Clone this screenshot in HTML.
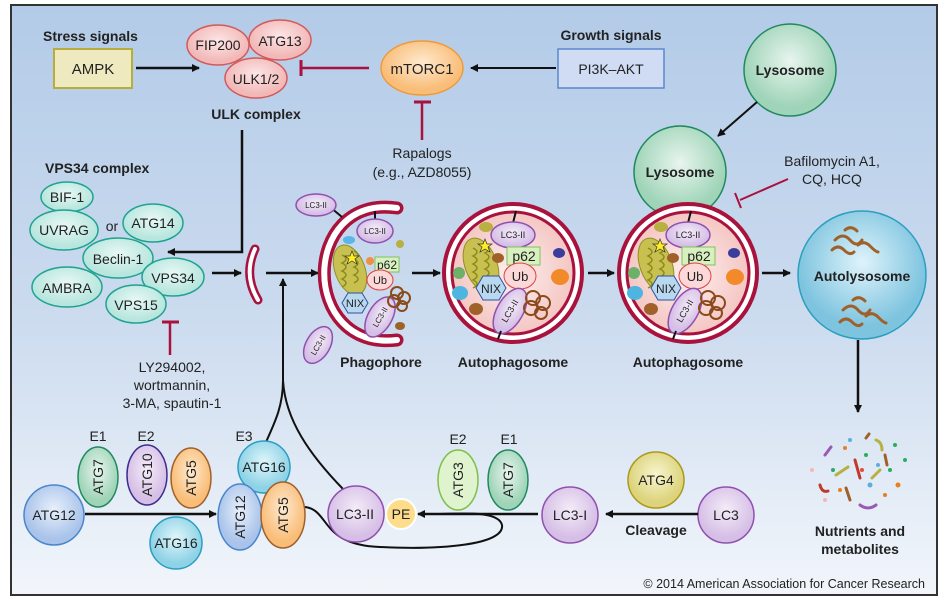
<!DOCTYPE html>
<html><head><meta charset="utf-8">
<style>
html,body{margin:0;padding:0;background:#fff;}
svg{display:block;}
text{font-family:"Liberation Sans",Arial,sans-serif;fill:#222;}
.b{font-weight:bold;}
</style></head>
<body>
<svg width="942" height="599" viewBox="0 0 942 599" xmlns="http://www.w3.org/2000/svg">
<defs>
<linearGradient id="bg" x1="0" y1="0" x2="0" y2="1">
<stop offset="0" stop-color="#b3cbe8"/><stop offset="0.55" stop-color="#cddcef"/><stop offset="1" stop-color="#f2f6fb"/>
</linearGradient>
<radialGradient id="pink"><stop offset="0" stop-color="#fdf0ee"/><stop offset="1" stop-color="#f4c6c3"/></radialGradient>
<radialGradient id="teal" cx="0.5" cy="0.4"><stop offset="0" stop-color="#e8f8f5"/><stop offset="1" stop-color="#b8e6de"/></radialGradient>
<radialGradient id="red" cx="0.5" cy="0.4"><stop offset="0" stop-color="#fde6e6"/><stop offset="1" stop-color="#f2b8b8"/></radialGradient>
<radialGradient id="orng" cx="0.5" cy="0.4"><stop offset="0" stop-color="#feead0"/><stop offset="1" stop-color="#f9bd78"/></radialGradient>
<radialGradient id="grn" cx="0.5" cy="0.4"><stop offset="0" stop-color="#e8f5ee"/><stop offset="1" stop-color="#9fd4b8"/></radialGradient>
<radialGradient id="blu" cx="0.5" cy="0.4"><stop offset="0" stop-color="#dff3fb"/><stop offset="1" stop-color="#7ec4df"/></radialGradient>
<radialGradient id="purp" cx="0.5" cy="0.4"><stop offset="0" stop-color="#f4ecf8"/><stop offset="1" stop-color="#d6bfe6"/></radialGradient>
<radialGradient id="lb" cx="0.5" cy="0.4"><stop offset="0" stop-color="#e8f0fb"/><stop offset="1" stop-color="#a9c3ea"/></radialGradient>
<radialGradient id="cy" cx="0.5" cy="0.4"><stop offset="0" stop-color="#e0f6fb"/><stop offset="1" stop-color="#8dd2e6"/></radialGradient>
<radialGradient id="yel" cx="0.5" cy="0.4"><stop offset="0" stop-color="#f8f5d0"/><stop offset="1" stop-color="#dcd37a"/></radialGradient>
<marker id="ar" markerWidth="8" markerHeight="8" refX="7" refY="4" orient="auto" markerUnits="userSpaceOnUse"><path d="M0,0 L8,4 L0,8 z" fill="#111"/></marker>
</defs>
<rect x="0" y="0" width="942" height="599" fill="#fff"/>
<rect x="11" y="5" width="926" height="590" fill="url(#bg)" stroke="#333" stroke-width="2"/>

<!-- top row -->
<text x="43" y="41" class="b" font-size="14">Stress signals</text>
<rect x="54" y="49" width="78" height="39" fill="#efe9bf" stroke="#b5ad3c" stroke-width="2"/>
<text x="93" y="74" font-size="15" text-anchor="middle">AMPK</text>
<line x1="136" y1="68" x2="199" y2="68" stroke="#111" stroke-width="2.5" marker-end="url(#ar)"/>

<ellipse cx="218" cy="45" rx="31" ry="20" fill="url(#red)" stroke="#d25a5a" stroke-width="1.5"/>
<text x="218" y="50" font-size="14" text-anchor="middle">FIP200</text>
<ellipse cx="280" cy="40" rx="31" ry="20" fill="url(#red)" stroke="#d25a5a" stroke-width="1.5"/>
<text x="280" y="46" font-size="14" text-anchor="middle">ATG13</text>
<ellipse cx="256" cy="78" rx="31" ry="20" fill="url(#red)" stroke="#d25a5a" stroke-width="1.5"/>
<text x="256" y="84" font-size="14" text-anchor="middle">ULK1/2</text>
<text x="256" y="119" class="b" font-size="14" text-anchor="middle">ULK complex</text>

<line x1="369" y1="68" x2="301" y2="68" stroke="#a8123c" stroke-width="2.5"/>
<line x1="301" y1="60" x2="301" y2="76" stroke="#a8123c" stroke-width="3"/>
<ellipse cx="422" cy="68" rx="41" ry="27" fill="url(#orng)" stroke="#ee9a3c" stroke-width="1.5"/>
<text x="422" y="74" font-size="15" text-anchor="middle">mTORC1</text>
<line x1="422" y1="140" x2="422" y2="102" stroke="#a8123c" stroke-width="2.5"/>
<line x1="414" y1="102" x2="431" y2="102" stroke="#a8123c" stroke-width="3"/>
<text x="422" y="158" font-size="14" text-anchor="middle">Rapalogs</text>
<text x="422" y="177" font-size="14" text-anchor="middle">(e.g., AZD8055)</text>

<text x="611" y="40" class="b" font-size="14" text-anchor="middle">Growth signals</text>
<rect x="558" y="49" width="106" height="39" fill="#cfdcf3" stroke="#5b87cc" stroke-width="1.5"/>
<text x="611" y="74" font-size="14" text-anchor="middle">PI3K–AKT</text>
<line x1="556" y1="68" x2="471" y2="68" stroke="#111" stroke-width="2" marker-end="url(#ar)"/>

<!-- ULK down line -->
<polyline points="242,130 242,252 168,252" fill="none" stroke="#111" stroke-width="2.5" marker-end="url(#ar)"/>

<!-- VPS34 complex -->
<text x="45" y="173" class="b" font-size="14">VPS34 complex</text>
<g stroke="#1fa391" stroke-width="1.5" fill="url(#teal)">
<ellipse cx="67" cy="197" rx="26" ry="15"/>
<ellipse cx="64" cy="230" rx="34" ry="20"/>
<ellipse cx="153" cy="223" rx="30" ry="19"/>
<ellipse cx="118" cy="258" rx="35" ry="20"/>
<ellipse cx="67" cy="287" rx="35" ry="20"/>
<ellipse cx="173" cy="277" rx="31" ry="19"/>
<ellipse cx="136" cy="304" rx="30" ry="19"/>
</g>
<text x="67" y="202" font-size="14" text-anchor="middle">BIF-1</text>
<text x="64" y="235" font-size="14" text-anchor="middle">UVRAG</text>
<text x="112" y="231" font-size="14" text-anchor="middle">or</text>
<text x="153" y="228" font-size="14" text-anchor="middle">ATG14</text>
<text x="118" y="264" font-size="14" text-anchor="middle">Beclin-1</text>
<text x="67" y="293" font-size="14" text-anchor="middle">AMBRA</text>
<text x="173" y="283" font-size="14" text-anchor="middle">VPS34</text>
<text x="136" y="310" font-size="14" text-anchor="middle">VPS15</text>
<line x1="170" y1="355" x2="170" y2="322" stroke="#a8123c" stroke-width="2.5"/>
<line x1="162" y1="322" x2="179" y2="322" stroke="#a8123c" stroke-width="3"/>
<text x="172" y="372" font-size="14" text-anchor="middle">LY294002,</text>
<text x="172" y="390" font-size="14" text-anchor="middle">wortmannin,</text>
<text x="172" y="408" font-size="14" text-anchor="middle">3-MA, spautin-1</text>

<line x1="212" y1="273" x2="241" y2="273" stroke="#111" stroke-width="2.5" marker-end="url(#ar)"/>
<!-- small fragment -->
<path d="M255,249 Q243,275 258,300" fill="none" stroke="#a8123c" stroke-width="9" stroke-linecap="round"/>
<path d="M255,249 Q243,275 258,300" fill="none" stroke="#fff" stroke-width="4" stroke-linecap="round"/>
<line x1="266" y1="273" x2="318" y2="273" stroke="#111" stroke-width="2.5" marker-end="url(#ar)"/>

<!-- phagophore -->
<path d="M397,208 C300,194 300,352 397,340" fill="none" stroke="#a8123c" stroke-width="13" stroke-linecap="round"/>
<path d="M397,208 C300,194 300,352 397,340" fill="none" stroke="#fff" stroke-width="6" stroke-linecap="round"/>
<g transform="translate(372,273)">
<line x1="-30" y1="-56" x2="-42" y2="-66" stroke="#111" stroke-width="2"/>
<ellipse cx="-56" cy="-68" rx="20" ry="11" fill="url(#purp)" stroke="#9050b0" stroke-width="1.5"/>
<text x="-56" y="-65" font-size="8" text-anchor="middle">LC3-II</text>
<line x1="3" y1="-62" x2="3" y2="-52" stroke="#111" stroke-width="2"/>
<ellipse cx="3" cy="-42" rx="18" ry="12" fill="url(#purp)" stroke="#9050b0" stroke-width="1.5"/>
<text x="3" y="-39" font-size="8" text-anchor="middle">LC3-II</text>
<ellipse cx="-22" cy="-3" rx="15" ry="26" transform="rotate(-20 -22 -3)" fill="#c8c050" stroke="#909020"/>
<path d="M-30,-18 q8,4 0,8 q8,4 0,8 q8,4 0,8 q8,4 0,8 M-18,-22 q8,4 0,8 q8,4 0,8 q8,4 0,8 q8,4 0,8" fill="none" stroke="#8a8a1a" stroke-width="1.5"/>
<polygon points="-20,-22 -18,-17 -13,-17 -17,-14 -15,-9 -20,-12 -25,-9 -23,-14 -27,-17 -22,-17" fill="#ffee22" stroke="#333" stroke-width="0.7"/>
<rect x="3" y="-16" width="24" height="15" fill="#d8f0c0" stroke="#80c060"/>
<text x="15" y="-4" font-size="12" text-anchor="middle">p62</text>
<ellipse cx="8" cy="7" rx="13" ry="10" fill="#fcd8d8" stroke="#e04040"/>
<text x="8" y="11" font-size="11" text-anchor="middle">Ub</text>
<polygon points="-30,30 -24,20 -10,20 -4,30 -10,40 -24,40" fill="#b8d8f0" stroke="#3050a0"/>
<text x="-17" y="34" font-size="11" text-anchor="middle">NIX</text>
<ellipse cx="8" cy="44" rx="12" ry="22" transform="rotate(30 8 44)" fill="url(#purp)" stroke="#9050b0" stroke-width="1.5"/>
<text x="8" y="47" font-size="8" text-anchor="middle" transform="rotate(-60 8 44)">LC3-II</text>
<line x1="-42" y1="56" x2="-48" y2="64" stroke="#111" stroke-width="2"/>
<ellipse cx="-54" cy="72" rx="12" ry="20" transform="rotate(30 -54 72)" fill="url(#purp)" stroke="#9050b0" stroke-width="1.5"/>
<text x="-54" y="75" font-size="8" text-anchor="middle" transform="rotate(-60 -54 72)">LC3-II</text>
<g fill="none" stroke="#8b4a1c" stroke-width="2"><circle cx="25" cy="20" r="6"/><circle cx="32" cy="25" r="6"/><circle cx="22" cy="28" r="6"/><circle cx="30" cy="33" r="5"/></g>
<ellipse cx="-23" cy="-33" rx="6" ry="4" fill="#5ab6e6"/>
<circle cx="-2" cy="-12" r="4" fill="#f09040"/>
<ellipse cx="28" cy="-29" rx="4" ry="4" fill="#b8b040"/>
<ellipse cx="28" cy="53" rx="5" ry="4" fill="#a0602a"/>
</g>
<text x="381" y="367" class="b" font-size="14" text-anchor="middle">Phagophore</text>
<line x1="412" y1="273" x2="440" y2="273" stroke="#111" stroke-width="2.5" marker-end="url(#ar)"/>

<!-- autophagosome 1 -->
<g transform="translate(513,273)">
<circle r="69" fill="#fff" stroke="#a8123c" stroke-width="4"/>
<circle r="61" fill="url(#pink)" stroke="#a8123c" stroke-width="3"/>
<line x1="3" y1="-62" x2="0" y2="-50" stroke="#111" stroke-width="2"/>
<ellipse cx="0" cy="-38" rx="22" ry="13" fill="url(#purp)" stroke="#9050b0" stroke-width="1.5"/>
<text x="0" y="-35" font-size="9" text-anchor="middle">LC3-II</text>
<ellipse cx="-32" cy="-8" rx="16" ry="28" transform="rotate(-20 -32 -8)" fill="#c8c050" stroke="#909020"/>
<path d="M-40,-25 q8,4 0,8 q8,4 0,8 q8,4 0,8 q8,4 0,8 q8,4 0,8 M-28,-28 q8,4 0,8 q8,4 0,8 q8,4 0,8 q8,4 0,8 q8,4 0,8" fill="none" stroke="#8a8a1a" stroke-width="1.5"/>
<polygon points="-28,-34 -26,-29 -21,-29 -25,-26 -23,-21 -28,-24 -33,-21 -31,-26 -35,-29 -30,-29" fill="#ffee22" stroke="#333" stroke-width="0.7"/>
<rect x="-6" y="-26" width="33" height="18" fill="#d8f0c0" stroke="#80c060"/>
<text x="11" y="-12" font-size="14" text-anchor="middle">p62</text>
<ellipse cx="7" cy="3" rx="16" ry="13" fill="#fcd8d8" stroke="#e04040"/>
<text x="7" y="8" font-size="13" text-anchor="middle">Ub</text>
<polygon points="-37,15 -30,3 -14,3 -7,15 -14,27 -30,27" fill="#b8d8f0" stroke="#3050a0"/>
<text x="-22" y="20" font-size="12" text-anchor="middle">NIX</text>
<ellipse cx="-3" cy="38" rx="13" ry="25" transform="rotate(30 -3 38)" fill="url(#purp)" stroke="#9050b0" stroke-width="1.5"/>
<text x="-3" y="41" font-size="9" text-anchor="middle" transform="rotate(-60 -3 38)">LC3-II</text>
<line x1="-12" y1="58" x2="-15" y2="66" stroke="#111" stroke-width="2"/>
<g fill="none" stroke="#8b4a1c" stroke-width="2"><circle cx="20" cy="25" r="7"/><circle cx="30" cy="30" r="7"/><circle cx="18" cy="35" r="7"/><circle cx="28" cy="40" r="6"/></g>
<ellipse cx="-27" cy="-46" rx="7" ry="5" fill="#b8b040"/>
<ellipse cx="-15" cy="-15" rx="6" ry="5" fill="#a0602a"/>
<ellipse cx="46" cy="-20" rx="6" ry="5" fill="#3b3d9c"/>
<ellipse cx="47" cy="4" rx="9" ry="8" fill="#f28a2a"/>
<ellipse cx="-54" cy="0" rx="6" ry="6" fill="#6cb06a"/>
<ellipse cx="-53" cy="20" rx="8" ry="7" fill="#4eb4e0"/>
<ellipse cx="-37" cy="36" rx="7" ry="6" fill="#a0602a"/>
</g>
<text x="513" y="367" class="b" font-size="14" text-anchor="middle">Autophagosome</text>
<line x1="588" y1="273" x2="614" y2="273" stroke="#111" stroke-width="2.5" marker-end="url(#ar)"/>

<!-- lysosomes -->
<circle cx="790" cy="70" r="46" fill="url(#grn)" stroke="#1f8a5e" stroke-width="1.5"/>
<text x="790" y="75" class="b" font-size="14" text-anchor="middle">Lysosome</text>
<line x1="757" y1="102" x2="718" y2="136" stroke="#111" stroke-width="2" marker-end="url(#ar)"/>
<circle cx="680" cy="172" r="46" fill="url(#grn)" stroke="#1f8a5e" stroke-width="1.5"/>
<text x="680" y="177" class="b" font-size="14" text-anchor="middle">Lysosome</text>
<text x="832" y="166" font-size="14" text-anchor="middle">Bafilomycin A1,</text>
<text x="832" y="184" font-size="14" text-anchor="middle">CQ, HCQ</text>
<line x1="788" y1="179" x2="740" y2="200" stroke="#a8123c" stroke-width="2"/>
<line x1="735" y1="193" x2="741" y2="208" stroke="#a8123c" stroke-width="2"/>

<!-- autophagosome 2 -->
<g transform="translate(688,273)">
<circle r="69" fill="#fff" stroke="#a8123c" stroke-width="4"/>
<circle r="61" fill="url(#pink)" stroke="#a8123c" stroke-width="3"/>
<line x1="3" y1="-62" x2="0" y2="-50" stroke="#111" stroke-width="2"/>
<ellipse cx="0" cy="-38" rx="22" ry="13" fill="url(#purp)" stroke="#9050b0" stroke-width="1.5"/>
<text x="0" y="-35" font-size="9" text-anchor="middle">LC3-II</text>
<ellipse cx="-32" cy="-8" rx="16" ry="28" transform="rotate(-20 -32 -8)" fill="#c8c050" stroke="#909020"/>
<path d="M-40,-25 q8,4 0,8 q8,4 0,8 q8,4 0,8 q8,4 0,8 q8,4 0,8 M-28,-28 q8,4 0,8 q8,4 0,8 q8,4 0,8 q8,4 0,8 q8,4 0,8" fill="none" stroke="#8a8a1a" stroke-width="1.5"/>
<polygon points="-28,-34 -26,-29 -21,-29 -25,-26 -23,-21 -28,-24 -33,-21 -31,-26 -35,-29 -30,-29" fill="#ffee22" stroke="#333" stroke-width="0.7"/>
<rect x="-6" y="-26" width="33" height="18" fill="#d8f0c0" stroke="#80c060"/>
<text x="11" y="-12" font-size="14" text-anchor="middle">p62</text>
<ellipse cx="7" cy="3" rx="16" ry="13" fill="#fcd8d8" stroke="#e04040"/>
<text x="7" y="8" font-size="13" text-anchor="middle">Ub</text>
<polygon points="-37,15 -30,3 -14,3 -7,15 -14,27 -30,27" fill="#b8d8f0" stroke="#3050a0"/>
<text x="-22" y="20" font-size="12" text-anchor="middle">NIX</text>
<ellipse cx="-3" cy="38" rx="13" ry="25" transform="rotate(30 -3 38)" fill="url(#purp)" stroke="#9050b0" stroke-width="1.5"/>
<text x="-3" y="41" font-size="9" text-anchor="middle" transform="rotate(-60 -3 38)">LC3-II</text>
<line x1="-12" y1="58" x2="-15" y2="66" stroke="#111" stroke-width="2"/>
<g fill="none" stroke="#8b4a1c" stroke-width="2"><circle cx="20" cy="25" r="7"/><circle cx="30" cy="30" r="7"/><circle cx="18" cy="35" r="7"/><circle cx="28" cy="40" r="6"/></g>
<ellipse cx="-27" cy="-46" rx="7" ry="5" fill="#b8b040"/>
<ellipse cx="-15" cy="-15" rx="6" ry="5" fill="#a0602a"/>
<ellipse cx="46" cy="-20" rx="6" ry="5" fill="#3b3d9c"/>
<ellipse cx="47" cy="4" rx="9" ry="8" fill="#f28a2a"/>
<ellipse cx="-54" cy="0" rx="6" ry="6" fill="#6cb06a"/>
<ellipse cx="-53" cy="20" rx="8" ry="7" fill="#4eb4e0"/>
<ellipse cx="-37" cy="36" rx="7" ry="6" fill="#a0602a"/>
</g>
<text x="688" y="367" class="b" font-size="14" text-anchor="middle">Autophagosome</text>
<line x1="762" y1="273" x2="790" y2="273" stroke="#111" stroke-width="2.5" marker-end="url(#ar)"/>

<!-- autolysosome -->
<circle cx="862" cy="275" r="64" fill="url(#blu)" stroke="#2a9fc0" stroke-width="1.5"/>
<text x="862" y="281" class="b" font-size="14" text-anchor="middle">Autolysosome</text>
<g fill="none" stroke="#a0602a" stroke-width="3" stroke-linecap="round">
<path d="M835,240 q8,-8 15,0 t12,0"/><path d="M832,250 q6,-6 12,0 t10,2"/><path d="M845,230 q6,-5 12,1"/><path d="M858,245 q6,-5 12,1 t8,6"/>
<path d="M843,310 q8,-8 15,0 t12,0"/><path d="M840,322 q6,-6 12,0 t10,2"/><path d="M853,300 q6,-5 12,1"/><path d="M866,316 q6,-5 12,1 t8,6"/>
</g>
<line x1="858" y1="340" x2="858" y2="412" stroke="#111" stroke-width="2.5" marker-end="url(#ar)"/>

<!-- nutrients -->
<g stroke-width="3" stroke-linecap="round" fill="none">
<path d="M825,455 l6,-8" stroke="#9b59b6"/><path d="M855,460 l5,18" stroke="#c0392b"/><path d="M876,440 q6,2 6,10" stroke="#b8b040"/>
<path d="M820,485 q2,8 8,6" stroke="#c0392b"/><path d="M836,475 l12,-8" stroke="#b8b040"/><path d="M880,470 l-8,8" stroke="#b8b040"/>
<path d="M850,500 l-4,-12" stroke="#a0602a"/><path d="M860,505 q8,6 16,0" stroke="#9b59b6"/><path d="M885,455 l2,10" stroke="#a0602a"/><path d="M866,438 l3,-4" stroke="#a0602a"/>
</g>
<g>
<circle cx="833" cy="470" r="2" fill="#27ae60"/><circle cx="845" cy="448" r="2" fill="#e67e22"/><circle cx="866" cy="455" r="2" fill="#27ae60"/><circle cx="890" cy="470" r="2" fill="#27ae60"/><circle cx="898" cy="485" r="2.5" fill="#e67e22"/><circle cx="840" cy="490" r="2" fill="#e67e22"/><circle cx="870" cy="485" r="2.5" fill="#5dade2"/><circle cx="885" cy="495" r="2" fill="#e67e22"/><circle cx="825" cy="500" r="2" fill="#f5b7b1"/><circle cx="812" cy="470" r="2" fill="#f5b7b1"/><circle cx="878" cy="465" r="2" fill="#5dade2"/><circle cx="905" cy="460" r="2" fill="#27ae60"/><circle cx="862" cy="470" r="2" fill="#e74c3c"/><circle cx="850" cy="440" r="2" fill="#5dade2"/><circle cx="895" cy="445" r="2" fill="#27ae60"/>
</g>
<text x="860" y="536" class="b" font-size="14" text-anchor="middle">Nutrients and</text>
<text x="860" y="554" class="b" font-size="14" text-anchor="middle">metabolites</text>

<!-- bottom: ATG12 conjugation -->
<text x="98" y="441" font-size="14" text-anchor="middle">E1</text>
<text x="146" y="441" font-size="14" text-anchor="middle">E2</text>
<text x="244" y="441" font-size="14" text-anchor="middle">E3</text>
<ellipse cx="98" cy="477" rx="20" ry="30" fill="url(#grn)" stroke="#1f8a5e" stroke-width="1.5"/>
<text x="98" y="477" font-size="14" text-anchor="middle" dominant-baseline="central" transform="rotate(-90 98 477)">ATG7</text>
<ellipse cx="147" cy="475" rx="20" ry="30" fill="url(#purp)" stroke="#3c2d8e" stroke-width="1.5"/>
<text x="147" y="475" font-size="14" text-anchor="middle" dominant-baseline="central" transform="rotate(-90 147 475)">ATG10</text>
<ellipse cx="191" cy="478" rx="20" ry="30" fill="url(#orng)" stroke="#a0602a" stroke-width="1.5"/>
<text x="191" y="478" font-size="14" text-anchor="middle" dominant-baseline="central" transform="rotate(-90 191 478)">ATG5</text>
<circle cx="54" cy="515" r="30" fill="url(#lb)" stroke="#4a86cc" stroke-width="1.5"/>
<text x="54" y="520" font-size="14" text-anchor="middle">ATG12</text>
<line x1="85" y1="514" x2="216" y2="514" stroke="#111" stroke-width="2.5" marker-end="url(#ar)"/>
<circle cx="176" cy="543" r="26" fill="url(#cy)" stroke="#2a9fc0" stroke-width="1.5"/>
<text x="176" y="548" font-size="14" text-anchor="middle">ATG16</text>
<!-- curves to phagophore -->
<path d="M266,442 C276,420 283,405 283,380" fill="none" stroke="#111" stroke-width="2"/>
<path d="M343,489 C310,455 285,420 283,380" fill="none" stroke="#111" stroke-width="2"/>
<line x1="283" y1="382" x2="283" y2="279" stroke="#111" stroke-width="2" marker-end="url(#ar)"/>
<circle cx="264" cy="467" r="26" fill="url(#cy)" stroke="#2a9fc0" stroke-width="1.5"/>
<text x="264" y="472" font-size="14" text-anchor="middle">ATG16</text>
<ellipse cx="240" cy="517" rx="22" ry="33" fill="url(#lb)" stroke="#4a86cc" stroke-width="1.5"/>
<text x="240" y="517" font-size="14" text-anchor="middle" dominant-baseline="central" transform="rotate(-90 240 517)">ATG12</text>
<ellipse cx="283" cy="515" rx="22" ry="33" fill="url(#orng)" stroke="#a0602a" stroke-width="1.5"/>
<text x="283" y="515" font-size="14" text-anchor="middle" dominant-baseline="central" transform="rotate(-90 283 515)">ATG5</text>
<!-- loop -->
<path d="M305,507 C330,510 320,545 380,547 C440,550 505,545 502,525 C499,512 470,513 440,514" fill="none" stroke="#111" stroke-width="2"/>
<line x1="538" y1="514" x2="418" y2="514" stroke="#111" stroke-width="2.5" marker-end="url(#ar)"/>
<circle cx="356" cy="514" r="28" fill="url(#purp)" stroke="#9050b0" stroke-width="1.5"/>
<text x="355" y="519" font-size="14" text-anchor="middle">LC3-II</text>
<circle cx="401" cy="514" r="15" fill="#fddc8a" stroke="#fff" stroke-width="2"/>
<text x="401" y="519" font-size="14" text-anchor="middle">PE</text>

<text x="458" y="444" font-size="14" text-anchor="middle">E2</text>
<text x="509" y="444" font-size="14" text-anchor="middle">E1</text>
<ellipse cx="458" cy="480" rx="20" ry="30" fill="#dff3cf" stroke="#7cc04a" stroke-width="1.5"/>
<text x="458" y="480" font-size="14" text-anchor="middle" dominant-baseline="central" transform="rotate(-90 458 480)">ATG3</text>
<ellipse cx="508" cy="480" rx="20" ry="30" fill="url(#grn)" stroke="#1f8a5e" stroke-width="1.5"/>
<text x="508" y="480" font-size="14" text-anchor="middle" dominant-baseline="central" transform="rotate(-90 508 480)">ATG7</text>
<circle cx="656" cy="480" r="28" fill="url(#yel)" stroke="#a89a20" stroke-width="1.5"/>
<text x="656" y="485" font-size="14" text-anchor="middle">ATG4</text>
<circle cx="570" cy="515" r="28" fill="url(#purp)" stroke="#9050b0" stroke-width="1.5"/>
<text x="570" y="520" font-size="14" text-anchor="middle">LC3-I</text>
<circle cx="726" cy="515" r="28" fill="url(#purp)" stroke="#9050b0" stroke-width="1.5"/>
<text x="726" y="520" font-size="14" text-anchor="middle">LC3</text>
<line x1="698" y1="514" x2="606" y2="514" stroke="#111" stroke-width="2.5" marker-end="url(#ar)"/>
<text x="656" y="535" class="b" font-size="14" text-anchor="middle">Cleavage</text>

<text x="925" y="588" font-size="12.5" text-anchor="end">© 2014 American Association for Cancer Research</text>
</svg>
</body></html>
